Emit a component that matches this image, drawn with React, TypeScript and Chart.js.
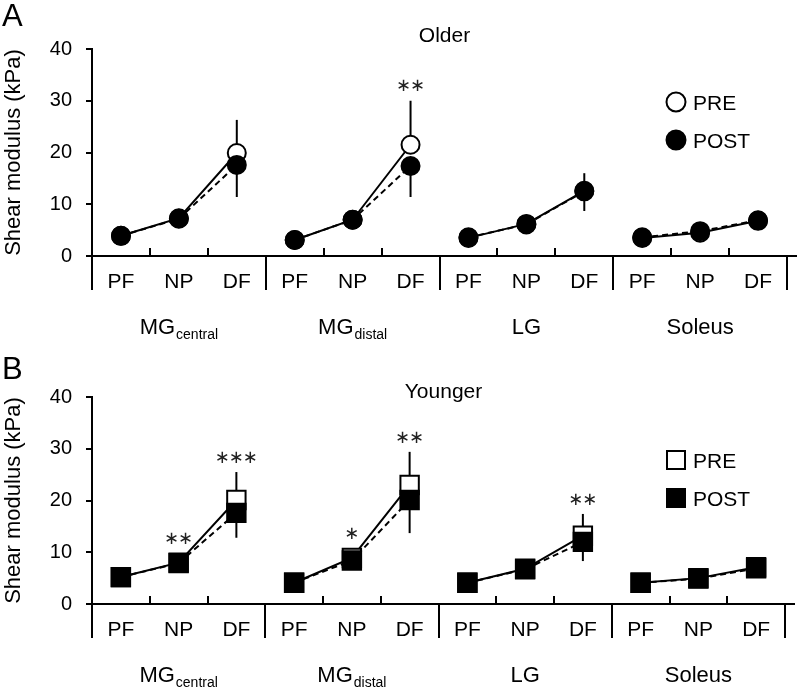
import React, { useEffect, useRef } from 'react';
import { Chart, registerables } from 'chart.js';

Chart.register(...registerables);

// ---------- data ----------
const positions = ['PF', 'NP', 'DF'];
const muscleNames = ['MG', 'MG', 'LG', 'Soleus'];
const muscleSubs = ['central', 'distal', '', ''];
const categoryLabels = muscleNames.flatMap(() => positions);

// Older (panel A), shear modulus kPa
const olderPre = [3.9, 7.3, 19.9, 3.1, 7.0, 21.5, 3.5, 6.2, 12.6, 3.5, 4.5, 6.8];
const olderPost = [3.9, 7.2, 17.6, 3.1, 7.0, 17.4, 3.6, 6.1, 12.5, 3.6, 4.8, 6.9];
const olderPreErr = [0.8, 1.2, 6.4, 0.8, 1.5, 8.5, 0.8, 1.2, 3.4, 0.7, 1.0, 1.4];
const olderPostErr = [0.8, 1.3, 6.2, 0.7, 1.4, 6.0, 0.9, 1.1, 3.8, 0.8, 1.0, 1.3];
const olderSig = ['', '', '', '', '', '**', '', '', '', '', '', ''];

// Younger (panel B)
const youngerPre = [5.2, 8.0, 20.1, 4.1, 8.9, 23.0, 4.1, 6.8, 13.2, 4.1, 5.0, 7.1];
const youngerPost = [5.2, 7.9, 17.6, 4.1, 8.4, 20.1, 4.1, 6.7, 12.0, 4.1, 4.9, 6.9];
const youngerPreErr = [1.0, 1.5, 5.4, 0.8, 1.8, 6.4, 0.9, 1.3, 4.2, 0.9, 1.0, 1.6];
const youngerPostErr = [1.0, 1.4, 4.8, 0.8, 1.7, 6.4, 0.9, 1.2, 3.7, 0.9, 1.0, 1.5];
const youngerSig = ['', '**', '***', '', '*', '**', '', '', '**', '', '', ''];

const yTicks = [0, 10, 20, 30, 40];
const seriesNames = ['PRE', 'POST'];

const FONT = "'Liberation Sans', Arial, Helvetica, sans-serif";

type Panel = {
  letter: string;
  title: string;
  pre: number[];
  post: number[];
  preErr: number[];
  postErr: number[];
  sig: string[];
  style: 'circle' | 'rect';
  radius: number;
  height: number;
  top: number;
  letterBase: number;
  titleBase: number;
  legendY: number[];
};

function makePlugin(p: Panel) {
  return {
    id: 'panelDecor',
    beforeDatasetsDraw(chart: any) {
      const { ctx } = chart;
      const x = chart.scales.x;
      const y = chart.scales.y;
      ctx.save();
      ctx.strokeStyle = '#000';
      ctx.lineWidth = 2;
      p.pre.forEach((v, i) => {
        const px = x.getPixelForValue(i);
        ctx.beginPath();
        ctx.moveTo(px, y.getPixelForValue(v));
        ctx.lineTo(px, y.getPixelForValue(v + p.preErr[i]));
        ctx.stroke();
        const w = p.post[i];
        ctx.beginPath();
        ctx.moveTo(px, y.getPixelForValue(w));
        ctx.lineTo(px, y.getPixelForValue(w - p.postErr[i]));
        ctx.stroke();
      });
      ctx.restore();
    },
    afterDraw(chart: any) {
      const { ctx, chartArea } = chart;
      const x = chart.scales.x;
      const y = chart.scales.y;
      const left = chartArea.left;
      const right = chartArea.right;
      const y0 = chartArea.bottom;
      const n = categoryLabels.length;
      const cw = (right - left) / n;
      ctx.save();
      ctx.strokeStyle = '#000';
      ctx.lineWidth = 2;
      // x axis line
      ctx.beginPath();
      ctx.moveTo(left - 1, y0);
      ctx.lineTo(right + 10, y0);
      ctx.stroke();
      for (let k = 0; k <= n; k++) {
        const xx = Math.round(left + k * cw);
        ctx.beginPath();
        if (k % 3 === 0) {
          ctx.moveTo(xx, y0);
          ctx.lineTo(xx, y0 + 34);
        } else {
          ctx.moveTo(xx, y0);
          ctx.lineTo(xx, y0 - 8);
        }
        ctx.stroke();
      }
      // group labels
      ctx.fillStyle = '#000';
      ctx.textBaseline = 'alphabetic';
      muscleNames.forEach((m, g) => {
        const cx = left + (g * 3 + 1.5) * cw;
        ctx.font = `22px ${FONT}`;
        const mw = ctx.measureText(m).width;
        ctx.font = `14px ${FONT}`;
        const sw = muscleSubs[g] ? ctx.measureText(muscleSubs[g]).width + 1 : 0;
        const sx = cx - (mw + sw) / 2;
        ctx.font = `22px ${FONT}`;
        ctx.textAlign = 'left';
        ctx.fillText(m, sx, y0 + 78);
        if (muscleSubs[g]) {
          ctx.font = `14px ${FONT}`;
          ctx.fillText(muscleSubs[g], sx + mw + 1, y0 + 83);
        }
      });
      // significance marks
      ctx.font = `18px 'DejaVu Sans', sans-serif`;
      ctx.fillStyle = '#222';
      ctx.textAlign = 'center';
      ctx.textBaseline = 'middle';
      p.sig.forEach((s, i) => {
        if (!s) return;
        const px = x.getPixelForValue(i);
        const topBar = y.getPixelForValue(p.pre[i] + p.preErr[i]);
        const topMark = y.getPixelForValue(Math.max(p.pre[i], p.post[i])) - 9;
        const anchor = Math.min(topBar, topMark) - 14;
        const cnt = s.length;
        for (let j = 0; j < cnt; j++) {
          const sx = px + (j - (cnt - 1) / 2) * 14;
          ctx.fillText('\u2217', sx, anchor);
        }
      });
      ctx.fillStyle = '#000';
      // panel title
      ctx.font = `21px ${FONT}`;
      ctx.textAlign = 'center';
      ctx.textBaseline = 'alphabetic';
      ctx.fillText(p.title, (left + right) / 2 + 5, p.titleBase);
      // panel letter
      ctx.font = `31px ${FONT}`;
      ctx.textAlign = 'left';
      ctx.fillText(p.letter, 2, p.letterBase);
      // legend
      const lx = 676;
      seriesNames.forEach((name, k) => {
        const ly = p.legendY[k];
        ctx.beginPath();
        ctx.lineWidth = 2;
        if (p.style === 'circle') {
          ctx.arc(lx, ly, 9.5, 0, Math.PI * 2);
        } else {
          ctx.rect(lx - 9, ly - 9, 18, 18);
        }
        ctx.fillStyle = k === 0 ? '#fff' : '#000';
        ctx.fill();
        ctx.stroke();
        ctx.fillStyle = '#000';
        ctx.font = `21px ${FONT}`;
        ctx.textAlign = 'left';
        ctx.fillText(name, 693, ly + 8);
      });
      ctx.restore();
    },
  };
}

function PanelChart({ p }: { p: Panel }) {
  const ref = useRef<HTMLCanvasElement | null>(null);
  useEffect(() => {
    if (!ref.current) return;
    const hideCross = (c: any) => (c.p0DataIndex % 3 === 2 ? 'rgba(0,0,0,0)' : undefined);
    const chart = new Chart(ref.current, {
      type: 'line',
      data: {
        labels: categoryLabels,
        datasets: [
          {
            label: seriesNames[0],
            data: p.pre,
            borderColor: '#000',
            borderWidth: 2,
            pointStyle: p.style,
            pointRadius: p.radius,
            pointBackgroundColor: '#fff',
            pointBorderColor: '#000',
            pointBorderWidth: 2,
            order: 1,
            segment: { borderColor: hideCross },
          },
          {
            label: seriesNames[1],
            data: p.post,
            borderColor: '#000',
            borderWidth: 2,
            borderDash: [6, 4],
            pointStyle: p.style,
            pointRadius: p.radius,
            pointBackgroundColor: '#000',
            pointBorderColor: '#000',
            pointBorderWidth: 2,
            order: 0,
            segment: { borderColor: hideCross },
          },
        ],
      },
      options: {
        responsive: false,
        animation: false,
        events: [],
        layout: { padding: { top: 49, right: 13, left: 0, bottom: p.height - 256 - 40 } },
        plugins: { legend: { display: false }, tooltip: { enabled: false } },
        scales: {
          x: {
            type: 'category',
            offset: true,
            grid: { display: false, drawTicks: false },
            border: { display: false },
            ticks: {
              color: '#000',
              font: { family: FONT, size: 21 },
              padding: 14,
              autoSkip: false,
              maxRotation: 0,
            },
            afterFit: (s: any) => {
              s.height = 40;
            },
          },
          y: {
            min: 0,
            max: 40,
            afterBuildTicks: (s: any) => {
              s.ticks = yTicks.map((v) => ({ value: v }));
            },
            grid: {
              display: true,
              drawOnChartArea: false,
              drawTicks: true,
              tickLength: 6,
              color: '#000',
              lineWidth: 2,
            },
            border: { display: true, color: '#000', width: 2 },
            ticks: {
              color: '#000',
              font: { family: FONT, size: 20 },
              padding: 14,
            },
            title: {
              display: true,
              text: 'Shear modulus (kPa)',
              color: '#000',
              font: { family: FONT, size: 22 },
              padding: { top: 1, bottom: 0 },
            },
            afterFit: (s: any) => {
              s.width = 92;
            },
          },
        },
      },
      plugins: [makePlugin(p)],
    } as any);
    return () => chart.destroy();
  }, [p]);
  return (
    <canvas
      ref={ref}
      width={800}
      height={p.height}
      style={{ position: 'absolute', left: 0, top: p.top, width: 800, height: p.height, display: 'block' }}
    />
  );
}

const panelA: Panel = {
  letter: 'A',
  title: 'Older',
  pre: olderPre,
  post: olderPost,
  preErr: olderPreErr,
  postErr: olderPostErr,
  sig: olderSig,
  style: 'circle',
  radius: 9,
  height: 345,
  top: 0,
  letterBase: 26,
  titleBase: 42,
  legendY: [102, 140],
};

const panelB: Panel = {
  letter: 'B',
  title: 'Younger',
  pre: youngerPre,
  post: youngerPost,
  preErr: youngerPreErr,
  postErr: youngerPostErr,
  sig: youngerSig,
  style: 'rect',
  radius: 13,
  height: 342,
  top: 348,
  letterBase: 31,
  titleBase: 50,
  legendY: [112, 150],
};

export default function App() {
  return (
    <div style={{ position: 'absolute', left: 0, top: 0, width: 800, height: 690, background: '#fff' }}>
      <PanelChart p={panelA} />
      <PanelChart p={panelB} />
    </div>
  );
}
